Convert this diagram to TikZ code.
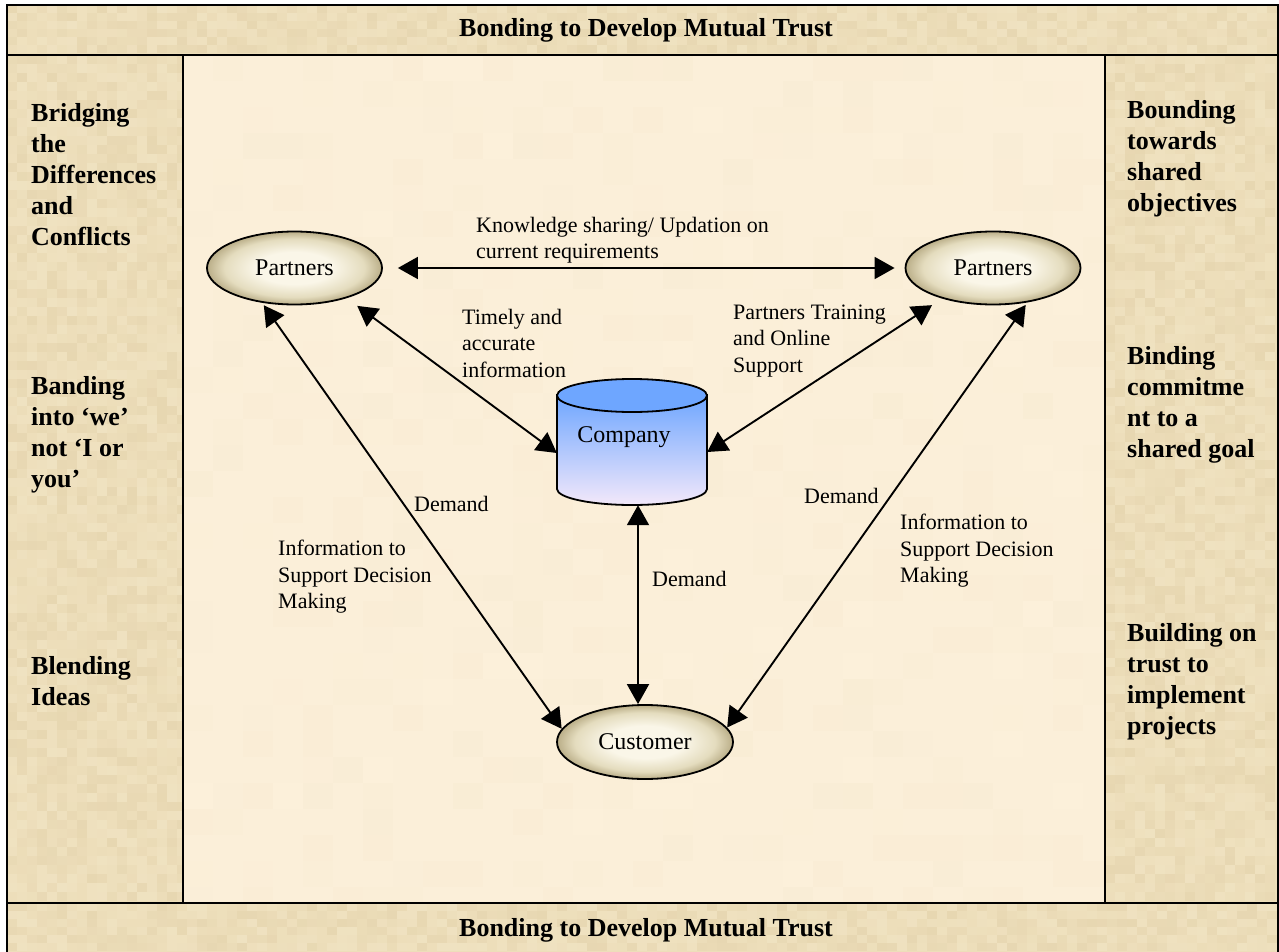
\documentclass[tikz,border=0pt]{standalone}
\usepackage{fontspec}
\setmainfont{Liberation Serif}
\usetikzlibrary{arrows.meta,shapes.geometric,calc}

\definecolor{band}{RGB}{237,222,186}
\definecolor{bandlight}{RGB}{247,237,210}
\definecolor{banddark}{RGB}{218,199,158}
\definecolor{panel}{RGB}{252,240,218}
\definecolor{ellin}{RGB}{250,246,232}
\definecolor{ellmid}{RGB}{228,220,190}
\definecolor{ellout}{RGB}{186,174,136}
\definecolor{cyltop}{RGB}{110,166,255}
\definecolor{cylbot}{RGB}{243,232,250}

\pgfdeclareradialshading{actorshade}{\pgfpoint{0bp}{0bp}}{%
  color(0bp)=(ellin); color(11bp)=(ellin); color(20bp)=(ellmid);
  color(25bp)=(ellout); color(50bp)=(ellout)}

\tikzset{
  actor/.style={ellipse, draw, line width=1.8pt, shading=actorshade,
    minimum width=175pt, minimum height=73pt, inner sep=0pt,
    font=\fontsize{24}{28}\selectfont},
  twoway/.style={line width=1.9pt,
    {Triangle[length=20pt,width=22pt]}-{Triangle[length=20pt,width=22pt]}},
  lbl/.style={anchor=west, inner sep=0pt, align=left,
    font=\fontsize{22}{26.5}\selectfont},
  side/.style={anchor=west, inner sep=0pt, align=left,
    font=\fontsize{26}{31}\selectfont\bfseries},
  heading/.style={inner sep=0pt, font=\fontsize{26}{31}\selectfont\bfseries},
  rule/.style={line width=1.8pt},
}

% mottled parchment cells over a rectangular area
\newcommand{\mottle}[7]{% x0,x1,dx,y0,y1,dy,maxopacity
  \foreach \mx in {#1,\the\numexpr#1+#3\relax,...,#2} {
    \foreach \my in {#4,\the\numexpr#4+#6\relax,...,#5} {
      \pgfmathsetmacro{\mop}{#7*rnd}
      \pgfmathrandominteger{\mk}{0}{1}
      \ifnum\mk=0
        \fill[bandlight, opacity=\mop] (\mx,\my) rectangle ++(#3,#6);
      \else
        \fill[banddark, opacity=\mop] (\mx,\my) rectangle ++(#3,#6);
      \fi
    }
  }
}

\begin{document}
\begin{tikzpicture}[x=1pt,y=-1pt]
\useasboundingbox (0,0) rectangle (1279,952);
\fill[white] (0,0) rectangle (1279,952);

% frame bands and central panel
\fill[band] (7,5) rectangle (1278,960);
\pgfmathsetseed{17}
\begin{scope}
  \clip (7,5) rectangle (1278,960);
  \mottle{7}{1270}{10}{5}{50}{8}{0.3}
  \mottle{7}{1270}{10}{903}{950}{8}{0.3}
  \mottle{7}{180}{10}{55}{900}{9}{0.3}
  \mottle{1105}{1270}{10}{55}{900}{9}{0.3}
\end{scope}
\fill[panel] (183,55) rectangle (1105,903);
\begin{scope}
  \clip (183,55) rectangle (1105,903);
  \pgfmathsetseed{5}
  \mottle{183}{1100}{30}{55}{900}{26}{0.07}
\end{scope}

\draw[rule] (7,960) -- (7,5) -- (1278,5) -- (1278,960);
\draw[rule] (7,55) -- (1278,55);
\draw[rule] (7,903) -- (1278,903);
\draw[rule] (183,55) -- (183,903);
\draw[rule] (1105,55) -- (1105,903);

% headings
\node[heading] (htop) at (646,30) {Bonding to Develop Mutual Trust};
\node[heading] (hbot) at (646,930) {Bonding to Develop Mutual Trust};

% left column
\node[side] (l1) at (31,175) {Bridging\\the\\Differences\\and\\Conflicts};
\node[side] (l2) at (31,435) {Banding\\into ‘we’\\not ‘I or\\you’};
\node[side] (l3) at (31,681) {Blending\\Ideas};

% right column
\node[side] (r1) at (1127,159) {Bounding\\towards\\shared\\objectives};
\node[side] (r2) at (1127,405) {Binding\\commitme\\nt to a\\shared goal};
\node[side] (r3) at (1127,682) {Building on\\trust to\\implement\\projects};

% company cylinder
\shade[top color=cyltop, bottom color=cylbot, draw, line width=1.8pt]
  (557,395) -- (557,489) arc[start angle=180, end angle=0, x radius=75, y radius=16]
  -- (707,395) -- cycle;
\filldraw[fill=cyltop, line width=1.8pt] (632,395.5) ellipse[x radius=75, y radius=16.5];
\node[minimum width=150pt, minimum height=126pt, inner sep=0pt] (company) at (632,442) {};
\node[inner sep=0pt, font=\fontsize{24}{28}\selectfont] (companytxt) at (624,437) {Company};

% partners and customer
\node[actor] (pL) at (294.5,268) {Partners};
\node[actor] (pR) at (993,268) {Partners};
\node[actor, minimum width=176pt, minimum height=74pt] (cust) at (645,742) {Customer};

% connectors
\draw[twoway, shorten <=15pt, shorten >=10pt] (pL) -- (pR);
\draw[twoway, shorten <=13pt] (pL.-30) -- ([yshift=-11pt]company.west);
\draw[twoway, shorten <=12pt] (pR.211) -- ([yshift=-10pt]company.east);
\draw[twoway, shorten <=3pt] (pL.227) -- (cust.171);
\draw[twoway, shorten <=3pt] (pR.315) -- (cust.10);
\draw[twoway] ([xshift=6pt]company.south) -- ([xshift=6pt]company.south |- cust.north);

% connector labels
\node[lbl] (tknow) at (476,240) {Knowledge sharing/ Updation on\\current requirements};
\node[lbl] (ttime) at (462,343) {Timely and\\accurate\\information};
\node[lbl] (ttrain) at (733,341) {Partners Training\\and Online\\Support};
\node[lbl] (tdemL) at (414,504) {Demand};
\node[lbl] (tinfoL) at (278,577) {Information to\\Support Decision\\Making};
\node[lbl] (tdemC) at (652,579) {Demand};
\node[lbl] (tdemR) at (804,496) {Demand};
\node[lbl] (tinfoR) at (900,551) {Information to\\Support Decision\\Making};
\end{tikzpicture}
\end{document}
